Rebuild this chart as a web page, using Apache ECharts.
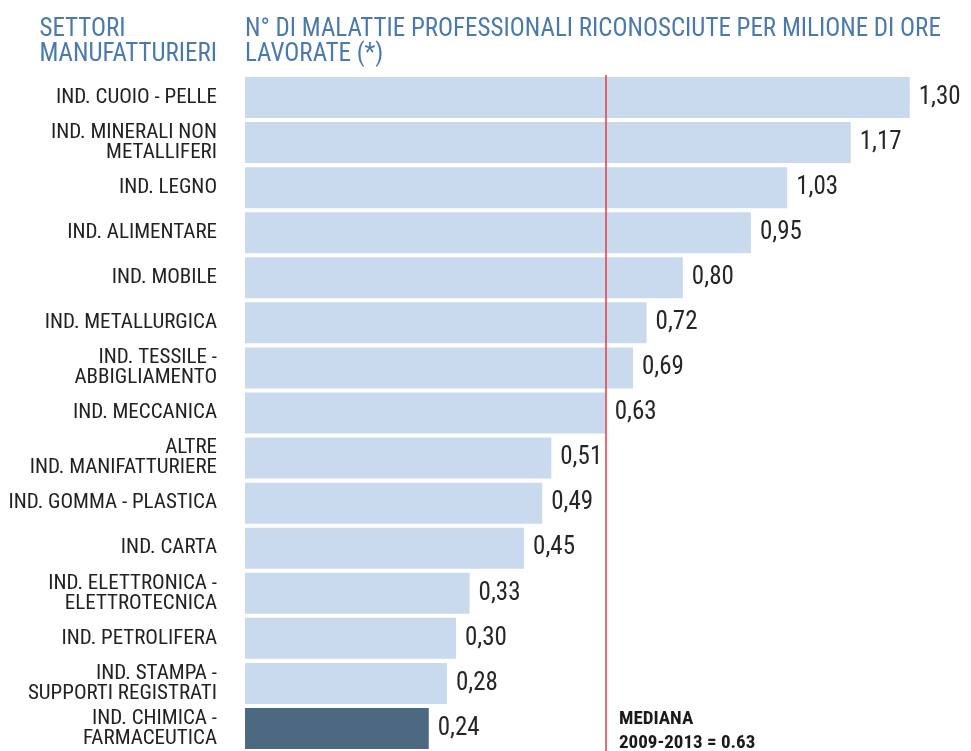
<!DOCTYPE html>
<html>
<head>
<meta charset="utf-8">
<script src="https://cdn.jsdelivr.net/npm/echarts@6/dist/echarts.min.js"></script>
<style>
  html, body { margin: 0; padding: 0; background: #fff; }
  #chart { width: 971px; height: 751px; }
</style>
</head>
<body>
<div id="chart"></div>
<script>
const FONT = '"Liberation Sans Narrow", "Roboto Condensed", "DejaVu Sans Condensed", "Liberation Sans", sans-serif'

const chartData = {
  sectors: [
    'IND. CUOIO - PELLE',
    'IND. MINERALI NON\nMETALLIFERI',
    'IND. LEGNO',
    'IND. ALIMENTARE',
    'IND. MOBILE',
    'IND. METALLURGICA',
    'IND. TESSILE -\nABBIGLIAMENTO',
    'IND. MECCANICA',
    'ALTRE\nIND. MANIFATTURIERE',
    'IND. GOMMA - PLASTICA',
    'IND. CARTA',
    'IND. ELETTRONICA -\nELETTROTECNICA',
    'IND. PETROLIFERA',
    'IND. STAMPA -\nSUPPORTI REGISTRATI',
    'IND. CHIMICA -\nFARMACEUTICA'
  ],
  values: [1.30, 1.17, 1.03, 0.95, 0.80, 0.72, 0.69, 0.63, 0.51, 0.49, 0.45, 0.33, 0.30, 0.28, 0.24],
  highlight: 'IND. CHIMICA -\nFARMACEUTICA',
  median: 0.63
}

const chart = echarts.init(document.getElementById('chart'))

chart.setOption({
  animation: false,
  textStyle: { fontFamily: FONT },
  title: [{
    text: 'SETTORI\nMANUFATTURIERI',
    right: 754,
    top: 17,
    padding: 0,
    textStyle: { color: '#4a79ad', fontFamily: FONT, fontSize: 25, fontWeight: 'normal', lineHeight: 25 }
  }, {
    text: 'N° DI MALATTIE PROFESSIONALI RICONOSCIUTE PER MILIONE DI ORE\nLAVORATE (*)',
    left: 245,
    top: 17,
    padding: 0,
    textStyle: { color: '#4a79ad', fontFamily: FONT, fontSize: 25, fontWeight: 'normal', lineHeight: 25 }
  }],
  grid: { left: 245, right: 0, top: 75, bottom: 0, containLabel: false },
  xAxis: {
    type: 'value',
    min: -0.165,
    max: 1.435,
    startValue: -0.165,
    show: false
  },
  yAxis: {
    type: 'category',
    inverse: true,
    data: chartData.sectors,
    axisLine: { show: false },
    axisTick: { show: false },
    axisLabel: {
      margin: 28,
      color: '#222',
      fontFamily: FONT,
      fontSize: 21,
      lineHeight: 20,
      align: 'right'
    }
  },
  graphic: [{
    type: 'text',
    left: 619,
    top: 707,
    z: 10,
    style: {
      text: 'MEDIANA\n2009-2013 = 0.63',
      fill: '#1a1a1a',
      font: 'bold 19px ' + FONT,
      lineHeight: 24
    }
  }],
  series: [{
    type: 'bar',
    barCategoryGap: '9%',
    data: chartData.values.map((v, i) => ({
      value: v,
      itemStyle: { color: chartData.sectors[i] === chartData.highlight ? '#4d6881' : '#c9daef' }
    })),
    label: {
      show: true,
      position: 'right',
      distance: 9,
      color: '#262626',
      fontFamily: FONT,
      fontSize: 25,
      formatter: (p) => p.value.toFixed(2).replace('.', ',')
    },
    markLine: {
      silent: true,
      symbol: 'none',
      label: { show: false },
      emphasis: { disabled: true },
      lineStyle: { color: '#e23b40', width: 1.5, type: 'solid', opacity: 1 },
      data: [{ xAxis: chartData.median }]
    },
    z: 2
  }]
})
</script>
</body>
</html>
